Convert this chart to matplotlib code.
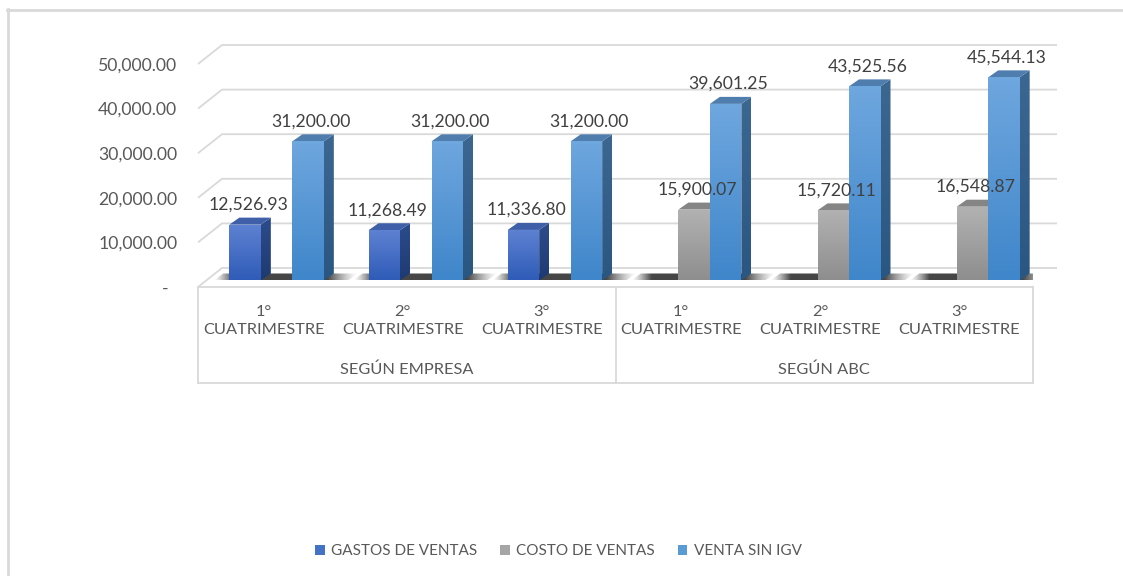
import numpy as np
import matplotlib
matplotlib.use("Agg")
import matplotlib.pyplot as plt
from matplotlib.patches import Polygon, Patch
from matplotlib.lines import Line2D
from matplotlib.transforms import ScaledTranslation
import matplotlib.colors as mcolors

# ---------------- data ----------------
groups = ["SEGÚN EMPRESA", "SEGÚN ABC"]
periods = ["1°\nCUATRIMESTRE", "2°\nCUATRIMESTRE", "3°\nCUATRIMESTRE"]
series_names = ["GASTOS DE VENTAS", "COSTO DE VENTAS", "VENTA SIN IGV"]
gastos_ventas = [12526.93, 11268.49, 11336.80, None, None, None]
costo_ventas = [None, None, None, 15900.07, 15720.11, 16548.87]
venta_sin_igv = [31200.00, 31200.00, 31200.00, 39601.25, 43525.56, 45544.13]
y_ticks = [0, 10000, 20000, 30000, 40000, 50000]
y_tick_labels = ["-", "10,000.00", "20,000.00", "30,000.00", "40,000.00", "50,000.00"]

# ---------------- styles ----------------
FONT = "Lato"
TXT = "#595959"
GRID = "#D9D9D9"
# (front top, front bottom, side top, side bottom, top face)
styles = [
    ("#5E82D2", "#2F5CB8", "#2C4C8C", "#1E3A72", "#3F60A8"),
    ("#B2B2B2", "#8E8E8E", "#7A7A7A", "#666666", "#858585"),
    ("#6FA7DF", "#3F86CA", "#3C6791", "#2A5682", "#4F7EAE"),
]
legend_colors = ["#4472C4", "#A5A5A5", "#5B9BD5"]

W_PX, H_PX = 1123, 576
fig = plt.figure(figsize=(W_PX / 100, H_PX / 100), dpi=100)
fig.patch.set_facecolor("white")

# axes: front plane, x 198..1033 px, value 0 at y=287 px, 50000 at y=64 px
L, R, Y0, Y50 = 198, 1033, 287, 64
ax = fig.add_axes([L / W_PX, (H_PX - Y0) / H_PX, (R - L) / W_PX, (Y0 - Y50) / H_PX])
ncat = len(venta_sin_igv)
ax.set_xlim(0, ncat)
ax.set_ylim(0, 50000)
px_x = ncat / (R - L)
px_y = 50000 / (Y0 - Y50)

DX, DY = 24 * px_x, 19 * px_y        # full wall depth
BX, BY = 9 * px_x, 6.5 * px_y        # bar front offset
TX, TY = 10 * px_x, 7 * px_y         # bar thickness
SW = 31.5 * px_x                      # slot width

for s in ax.spines.values():
    s.set_visible(False)
ax.set_xticks([])
ax.patch.set_alpha(0)


def grad_fill(pts, c1, c2, z, horizontal=False, alpha_profile=None):
    poly = Polygon(pts, closed=True, facecolor="none", edgecolor="none")
    ax.add_patch(poly)
    xs = [p[0] for p in pts]
    ys = [p[1] for p in pts]
    n = 96
    t = np.linspace(0, 1, n)
    a = np.array(mcolors.to_rgba(c1))
    b = np.array(mcolors.to_rgba(c2))
    cols = a[None, :] * (1 - t[:, None]) + b[None, :] * t[:, None]
    if alpha_profile is not None:
        cols[:, 3] = alpha_profile(t)
    img = cols[None, :, :] if horizontal else cols[:, None, :]
    im = ax.imshow(img, extent=(min(xs), max(xs), min(ys), max(ys)), origin="upper",
                   aspect="auto", zorder=z, interpolation="bilinear")
    im.set_clip_path(poly)
    return im


# ---- walls / floor gridlines ----
for v in y_ticks:
    ax.plot([0, DX, ncat + DX], [v, v + DY, v + DY], color=GRID, lw=1.3,
            clip_on=False, zorder=1, solid_capstyle="butt")

series = [gastos_ventas, costo_ventas, venta_sin_igv]

# ---- shadows on floor ----
for i in range(ncat):
    left = i + 0.5 - 1.5 * SW + BX - 16 * px_x
    right = i + 0.5 + 1.5 * SW + BX + TX + 24 * px_x
    pts = [(left, BY), (right - TX, BY), (right, BY + TY), (left + TX, BY + TY)]
    span = right - left
    fl, fr = 20 * px_x / span, 30 * px_x / span
    grad_fill(pts, "#3C3C3C", "#3C3C3C", 3, horizontal=True,
              alpha_profile=lambda t, fl=fl, fr=fr: np.clip(np.minimum(t / fl, (1 - t) / fr), 0, 1) ** 1.3 * 0.95)

# ---- bars ----
z = 4
for i in range(ncat):
    for k, vals in enumerate(series):
        v = vals[i]
        if v is None:
            continue
        ft, fb, st, sb, tc = styles[k]
        x0 = i + 0.5 - 1.5 * SW + k * SW + BX
        x1 = x0 + SW
        y0, y1 = BY, BY + v
        front = [(x0, y0), (x1, y0), (x1, y1), (x0, y1)]
        side = [(x1, y0), (x1 + TX, y0 + TY), (x1 + TX, y1 + TY), (x1, y1)]
        top = [(x0, y1), (x1, y1), (x1 + TX, y1 + TY), (x0 + TX, y1 + TY)]
        grad_fill(side, st, sb, z)
        ax.add_patch(Polygon(top, closed=True, facecolor=tc, edgecolor="none", zorder=z + 0.1))
        grad_fill(front, ft, fb, z + 0.2)
        z += 0.5
        ax.text((x0 + x1) / 2 + 3 * px_x, y1 + 20 * px_y, f"{v:,.2f}", ha="center", va="center",
                fontsize=12.7, color="#404040", family=FONT, zorder=50)

# ---- category axis box ----
box_bottom = -(383 - Y0) * px_y
for xv in [0, 3, 6]:
    ax.plot([xv, xv], [0, box_bottom], color=GRID, lw=1.3, clip_on=False, zorder=2)
ax.plot([0, ncat], [box_bottom, box_bottom], color=GRID, lw=1.3, clip_on=False, zorder=2)
ax.plot([0, ncat], [0, 0], color=GRID, lw=1.3, clip_on=False, zorder=2)

for i in range(ncat):
    ax.text(i + 0.5 - 4 * px_x, -(321 - Y0) * px_y, periods[i % 3], ha="center", va="center",
            fontsize=11.8, color=TXT, family=FONT, linespacing=1.4)
for g, name in enumerate(groups):
    ax.text(1.5 + 3 * g, -(370 - Y0) * px_y, name, ha="center", va="center",
            fontsize=11.8, color=TXT, family=FONT)

# ---- y tick labels ----
ax.set_yticks(y_ticks)
ax.set_yticklabels(y_tick_labels, fontsize=12.7, color=TXT, family=FONT)
ax.tick_params(axis="y", length=0, pad=15)
lbl0 = ax.get_yticklabels()[0]
lbl0.set_transform(lbl0.get_transform() + ScaledTranslation(-9 / 100, 0, fig.dpi_scale_trans))

# ---- legend ----
handles = [Patch(facecolor=c, edgecolor="none") for c in legend_colors]
leg = fig.legend(handles, series_names, loc="center", bbox_to_anchor=(0.497, (H_PX - 551) / H_PX),
                 ncol=3, frameon=False, handlelength=0.65, handleheight=0.65, handletextpad=0.4,
                 columnspacing=1.5, prop={"family": FONT, "size": 11})
for t in leg.get_texts():
    t.set_color(TXT)

# ---- outer border ----
fig.add_artist(Line2D([7.5 / W_PX, 7.5 / W_PX], [0, 1 - 9 / H_PX], color=GRID, lw=2,
                      transform=fig.transFigure))
fig.add_artist(Line2D([7 / W_PX, 1], [1 - 9.5 / H_PX, 1 - 9.5 / H_PX], color=GRID, lw=2,
                      transform=fig.transFigure))

fig.savefig("out.png", dpi=100, facecolor="white")
